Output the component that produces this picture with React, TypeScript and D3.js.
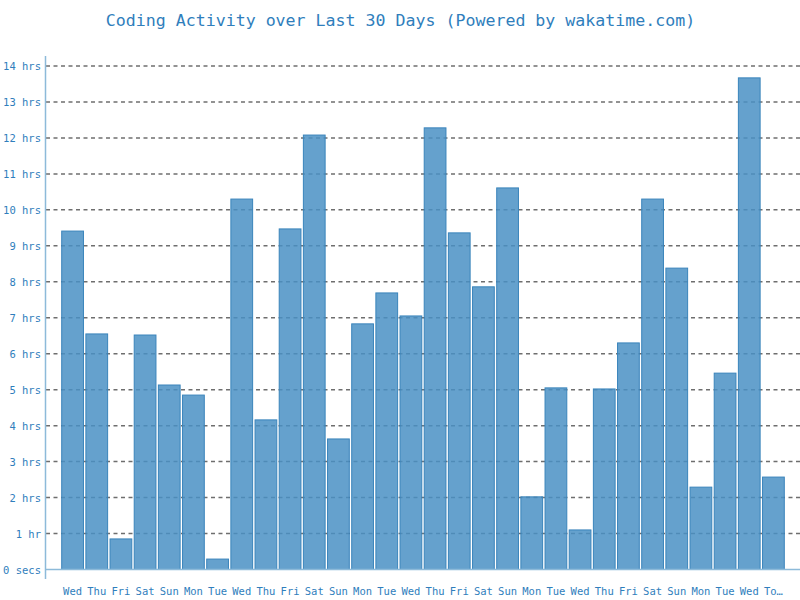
import React from "react";
import * as d3 from "d3";

const days = ["Wed","Thu","Fri","Sat","Sun","Mon","Tue","Wed","Thu","Fri","Sat","Sun","Mon","Tue","Wed","Thu","Fri","Sat","Sun","Mon","Tue","Wed","Thu","Fri","Sat","Sun","Mon","Tue","Wed","Today"];
const hours = [9.41,6.55,0.85,6.52,5.13,4.85,0.29,10.30,4.16,9.47,12.08,3.63,6.83,7.69,7.05,12.28,9.36,7.86,10.61,2.02,5.05,1.10,5.02,6.30,10.30,8.38,2.29,5.46,13.67,2.57];
const yTicks = [0,1,2,3,4,5,6,7,8,9,10,11,12,13,14];
const title = "Coding Activity over Last 30 Days (Powered by wakatime.com)";

const FONT = "'DejaVu Sans Mono', monospace";
const TXT = "#2f7ebc";

function tickLabel(h: number) {
  if (h === 0) return "0 secs";
  if (h === 1) return "1 hr";
  return `${h} hrs`;
}
function shortLabel(s: string) {
  return s.length > 3 ? s.slice(0, 2) + "…" : s;
}

export default function App() {
  const W = 800, H = 600;
  const ids = days.map((_, i) => String(i));
  const x = d3.scaleBand<string>().domain(ids).range([60.5, 785.5]).paddingInner(0.1).paddingOuter(0.05);
  const y = d3.scaleLinear().domain([0, 14]).range([569.5, 66]);
  return (
    <svg width={W} height={H} style={{ position: "absolute", left: 0, top: 0, background: "#fff" }}>
      <text x={400.5} y={26} textAnchor="middle" fontFamily={FONT} fontSize={16.6} fill={TXT}>{title}</text>
      {yTicks.map(t => (
        <g key={t}>
          {t > 0 && (
            <line x1={46} x2={800} y1={y(t)} y2={y(t)} stroke="#555" strokeOpacity={0.85} strokeWidth={1.5} strokeDasharray="4,3.5" />
          )}
          <text x={41} y={y(t) + 4} textAnchor="end" fontFamily={FONT} fontSize={10.5} fill={TXT}>{tickLabel(t)}</text>
        </g>
      ))}
      {hours.map((h, i) => (
        <rect key={i} x={x(String(i))!} y={y(h)} width={x.bandwidth()} height={y(0) - y(h)}
          fill="#4a90c4" fillOpacity={0.85} stroke="#3a84bb" strokeWidth={1} />
      ))}
      <line x1={45.5} x2={45.5} y1={56} y2={579} stroke="#8dbad9" strokeWidth={1.5} />
      <line x1={45} x2={800} y1={569.5} y2={569.5} stroke="#8dbad9" strokeWidth={1.5} />
      {days.map((d, i) => (
        <text key={i} x={x(String(i))! + x.bandwidth() / 2} y={595} textAnchor="middle" fontFamily={FONT} fontSize={10.5} fill={TXT}>{shortLabel(d)}</text>
      ))}
    </svg>
  );
}
